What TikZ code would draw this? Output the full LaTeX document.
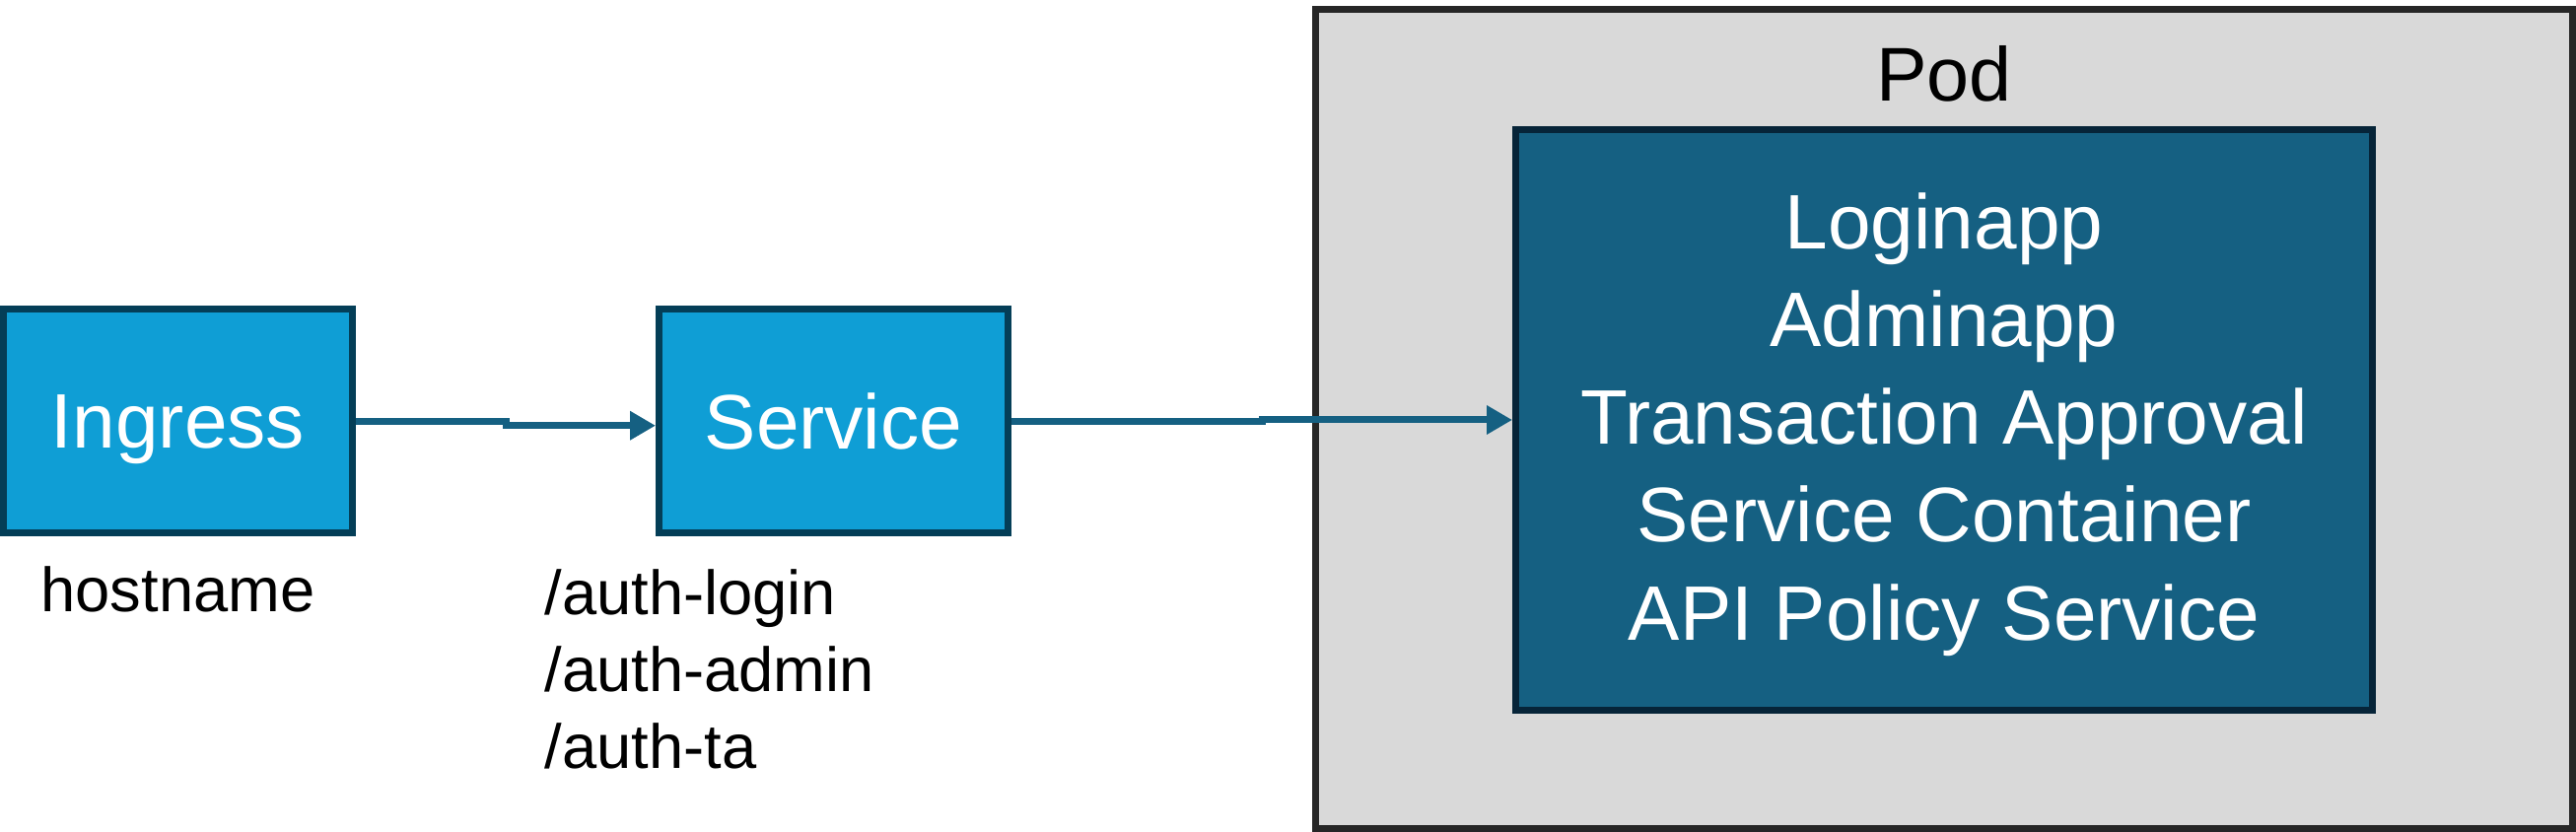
\documentclass[tikz,border=0pt]{standalone}
\usepackage{fontspec}
\setmainfont{Liberation Sans}
\usetikzlibrary{positioning,arrows.meta}
\definecolor{boxblue}{HTML}{0F9ED5}
\definecolor{boxedge}{HTML}{043E57}
\definecolor{appblue}{HTML}{156082}
\definecolor{appedge}{HTML}{062438}
\definecolor{podgray}{HTML}{D9D9D9}
\definecolor{podedge}{HTML}{262626}
\tikzset{
  comp/.style={draw=boxedge, fill=boxblue, line width=0.07cm, minimum width=3.54cm,
    minimum height=2.275cm, inner sep=0pt, text depth=0pt, text=white, font=\fontsize{22.3}{26}\selectfont},
  note/.style={inner sep=0pt, align=left, font=\fontsize{18}{22.2}\selectfont},
  flow/.style={draw=appblue, line width=0.07cm, -{Triangle[length=2.6mm,width=2.8mm]}}
}
\begin{document}
\begin{tikzpicture}
        \useasboundingbox (0,0) rectangle (26.13,8.44);
        \node[draw=podedge, fill=podgray, line width=0.07cm, minimum width=12.75cm, minimum height=8.31cm] (pod) at (19.72,4.19) {};
        \node[inner sep=0pt, below=4mm of pod.north, font=\fontsize{22}{26}\selectfont] (podname) {Pod};
        \node[draw=appedge, fill=appblue, line width=0.07cm, minimum width=8.69cm, minimum height=5.89cm,
          inner sep=0pt, text depth=0.07cm, align=center, text=white, font=\fontsize{22.3}{28.2}\selectfont] (apps) at (19.72,4.18)
          {Loginapp\\Adminapp\\Transaction Approval\\Service Container\\API Policy Service};
        \node[comp] (ingress) at (1.805,4.1675) {Ingress};
        \node[comp, right=3.04cm of ingress] (service) {Service};
        \node[note, below=2.9mm of ingress] (host) {hostname};
        \node[note, anchor=north west] (paths) at (5.52,2.67) {/auth-login\\/auth-admin\\/auth-ta};
        \draw[flow] (ingress.east) -- ++(1.52,0) |- ([yshift=-0.45mm]service.west);
        \draw[flow] (service.east) -- ++(2.54,0) |- (apps.west);
    \end{tikzpicture}
\end{document}
